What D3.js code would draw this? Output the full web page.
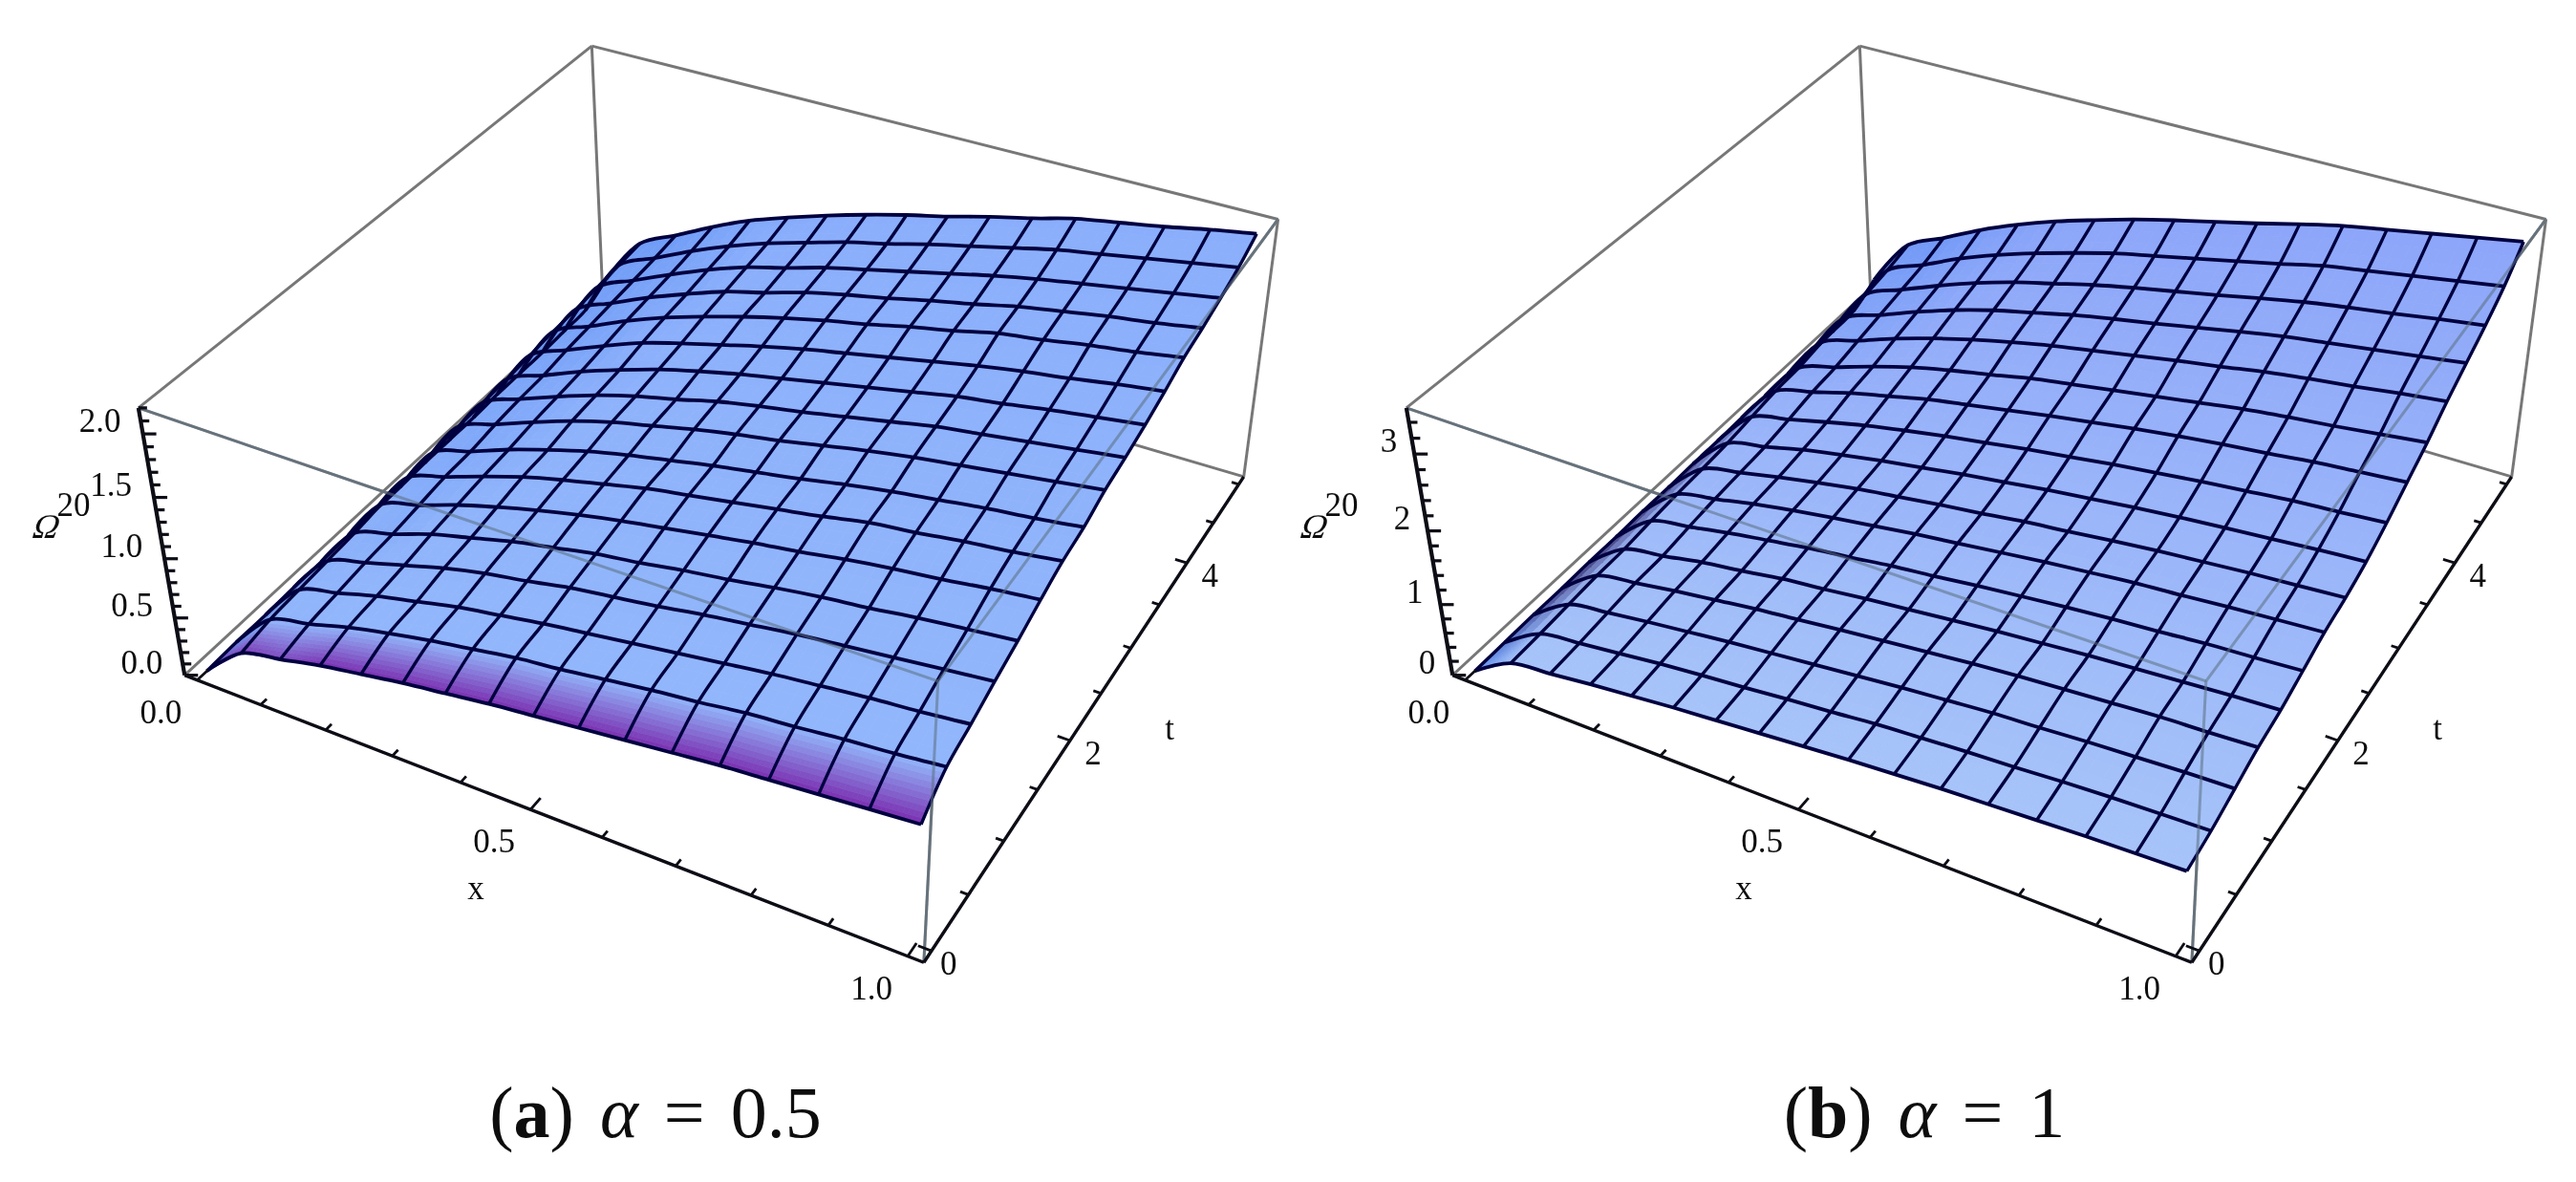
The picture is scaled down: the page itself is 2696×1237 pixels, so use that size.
<!DOCTYPE html>
<html>
<head>
<meta charset="utf-8">
<style>
body { margin: 0; background: #fff; }
text { font-family: "Liberation Serif", serif; fill: #111; }
</style>
<script src="https://cdn.jsdelivr.net/npm/d3@7"></script>
</head>
<body>
<div id="chart"></div>
<script>
// mesh positions
var xGrid = [0, 0.0625, 0.125, 0.1875, 0.25, 0.3125, 0.375, 0.4375, 0.5, 0.5625, 0.625, 0.6875, 0.75, 0.8125, 0.875, 0.9375, 1];
var tGrid = [0, 0.3125, 0.625, 0.9375, 1.25, 1.5625, 1.875, 2.1875, 2.5, 2.8125, 3.125, 3.4375, 3.75, 4.0625, 4.375, 4.6875, 5];

// surface heights, one row per t
var zA = [
	[0, .29, .37, .45, .51, .57, .62, .67, .71, .75, .79, .83, .87, .90, .93, .96, .99],
	[.01, .34, .43, .53, .61, .68, .74, .80, .84, .89, .94, .98, 1.03, 1.06, 1.10, 1.13, 1.17],
	[.01, .36, .46, .56, .64, .72, .78, .84, .89, .94, .99, 1.04, 1.09, 1.13, 1.17, 1.20, 1.24],
	[.02, .38, .49, .59, .69, .77, .83, .90, .95, 1.00, 1.06, 1.11, 1.16, 1.20, 1.24, 1.28, 1.32],
	[.02, .40, .51, .63, .72, .81, .88, .95, 1.00, 1.06, 1.11, 1.17, 1.22, 1.26, 1.31, 1.35, 1.39],
	[.03, .43, .54, .66, .76, .85, .93, 1.00, 1.06, 1.12, 1.18, 1.23, 1.29, 1.34, 1.38, 1.43, 1.47],
	[.03, .45, .57, .69, .80, .89, .97, 1.05, 1.11, 1.17, 1.23, 1.29, 1.36, 1.40, 1.45, 1.49, 1.54],
	[.03, .46, .58, .71, .82, .92, 1.00, 1.07, 1.14, 1.20, 1.26, 1.33, 1.39, 1.44, 1.49, 1.53, 1.58],
	[.04, .48, .61, .74, .86, .96, 1.04, 1.12, 1.19, 1.25, 1.32, 1.39, 1.45, 1.50, 1.55, 1.60, 1.65],
	[.04, .49, .63, .76, .88, .98, 1.06, 1.15, 1.22, 1.28, 1.35, 1.42, 1.49, 1.54, 1.59, 1.64, 1.69],
	[.04, .50, .64, .78, .90, 1.01, 1.10, 1.18, 1.25, 1.32, 1.39, 1.46, 1.53, 1.58, 1.64, 1.69, 1.74],
	[.05, .52, .67, .81, .94, 1.04, 1.13, 1.22, 1.30, 1.37, 1.44, 1.51, 1.58, 1.64, 1.69, 1.75, 1.80],
	[.05, .54, .69, .84, .97, 1.08, 1.18, 1.27, 1.35, 1.42, 1.50, 1.57, 1.65, 1.70, 1.76, 1.81, 1.87],
	[.05, .55, .71, .86, .99, 1.11, 1.20, 1.30, 1.38, 1.45, 1.53, 1.60, 1.68, 1.74, 1.80, 1.85, 1.91],
	[.06, .57, .73, .88, 1.02, 1.14, 1.23, 1.33, 1.41, 1.49, 1.57, 1.65, 1.72, 1.78, 1.84, 1.90, 1.96],
	[.07, .59, .75, .91, 1.05, 1.17, 1.27, 1.37, 1.45, 1.54, 1.62, 1.70, 1.78, 1.84, 1.90, 1.96, 2.02],
	[.18, .61, .78, .95, 1.10, 1.22, 1.33, 1.43, 1.52, 1.60, 1.69, 1.77, 1.86, 1.92, 1.98, 2.05, 2.11]
];
var zB = [
	[0, .33, .40, .47, .53, .59, .64, .69, .74, .79, .83, .87, .90, .93, .96, .98, 1.00],
	[.01, .35, .43, .50, .57, .63, .68, .74, .79, .85, .89, .93, .96, 1.00, 1.03, 1.05, 1.07],
	[.02, .38, .47, .55, .62, .69, .75, .81, .87, .93, .98, 1.03, 1.06, 1.10, 1.13, 1.16, 1.18],
	[.02, .41, .51, .60, .68, .76, .82, .89, .95, 1.01, 1.07, 1.12, 1.16, 1.20, 1.24, 1.26, 1.29],
	[.03, .42, .52, .63, .71, .80, .86, .93, .99, 1.05, 1.11, 1.16, 1.21, 1.25, 1.29, 1.33, 1.36],
	[.03, .46, .57, .68, .77, .86, .93, 1.01, 1.07, 1.14, 1.20, 1.26, 1.31, 1.35, 1.40, 1.43, 1.47],
	[.04, .49, .61, .73, .83, .92, 1.00, 1.08, 1.15, 1.22, 1.29, 1.35, 1.41, 1.45, 1.50, 1.54, 1.58],
	[.04, .51, .64, .76, .87, .97, 1.05, 1.13, 1.20, 1.28, 1.34, 1.41, 1.47, 1.52, 1.57, 1.61, 1.65],
	[.05, .54, .67, .81, .92, 1.02, 1.11, 1.20, 1.28, 1.36, 1.43, 1.50, 1.56, 1.61, 1.66, 1.71, 1.75],
	[.05, .59, .73, .87, 1.00, 1.11, 1.21, 1.30, 1.39, 1.47, 1.55, 1.62, 1.69, 1.75, 1.81, 1.85, 1.90],
	[.06, .64, .80, .96, 1.09, 1.22, 1.32, 1.42, 1.52, 1.61, 1.70, 1.78, 1.85, 1.91, 1.98, 2.03, 2.08],
	[.06, .66, .84, 1.02, 1.18, 1.31, 1.42, 1.54, 1.63, 1.72, 1.81, 1.90, 1.99, 2.06, 2.12, 2.19, 2.26],
	[.07, .72, .91, 1.11, 1.28, 1.43, 1.56, 1.68, 1.78, 1.88, 1.98, 2.07, 2.17, 2.25, 2.32, 2.40, 2.47],
	[.07, .77, .98, 1.19, 1.38, 1.54, 1.67, 1.80, 1.91, 2.01, 2.12, 2.23, 2.33, 2.41, 2.49, 2.57, 2.65],
	[.08, .82, 1.05, 1.27, 1.47, 1.64, 1.78, 1.92, 2.04, 2.15, 2.26, 2.38, 2.49, 2.58, 2.66, 2.75, 2.83],
	[.10, .88, 1.12, 1.37, 1.58, 1.76, 1.92, 2.07, 2.19, 2.31, 2.43, 2.55, 2.68, 2.77, 2.86, 2.95, 3.04],
	[.28, .97, 1.23, 1.50, 1.73, 1.93, 2.10, 2.26, 2.40, 2.53, 2.66, 2.80, 2.93, 3.03, 3.13, 3.23, 3.33]
];

// ticks
var xTicks = [0, 0.1, 0.2, 0.3, 0.4, 0.5, 0.6, 0.7, 0.8, 0.9, 1];
var xLabels = [[0, "0.0"], [0.5, "0.5"], [1, "1.0"]];
var tTicks = [0, 0.5, 1, 1.5, 2, 2.5, 3, 3.5, 4, 4.5, 5];
var tLabels = [[0, "0"], [2, "2"], [4, "4"]];
var zTicksA = [0, .1, .2, .3, .4, .5, .6, .7, .8, .9, 1, 1.1, 1.2, 1.3, 1.4, 1.5, 1.6, 1.7, 1.8, 1.9, 2, 2.1, 2.2];
var zLongA = [0, .5, 1, 1.5, 2];
var zLabelsA = ["0.0", "0.5", "1.0", "1.5", "2.0"];
var zTicksB = [0, .2, .4, .6, .8, 1, 1.2, 1.4, 1.6, 1.8, 2, 2.2, 2.4, 2.6, 2.8, 3, 3.2, 3.4];
var zLongB = [0, 1, 2, 3];
var zLabelsB = ["0", "1", "2", "3"];

var width = 2696, height = 1237;

// box corners on screen, [x, t, z] in the unit cube -> [u, v]
var corners = [
	[0, 0, 0, 192, 705],
	[1, 0, 0, 966, 1007],
	[0, 1, 0, 631, 305],
	[1, 1, 0, 1303, 497],
	[0, 0, 1, 146, 427],
	[1, 0, 1, 983, 715],
	[0, 1, 1, 619, 46],
	[1, 1, 1, 1336, 230]
];

// plain least squares for the camera matrix
function solveCamera(pts) {
	var rows = [];
	pts.forEach(function (c) {
		var X = c[0], Y = c[1], Z = c[2], u = c[3] / 1000, v = c[4] / 1000;
		rows.push([X, Y, Z, 1, 0, 0, 0, 0, -u * X, -u * Y, -u * Z, u]);
		rows.push([0, 0, 0, 0, X, Y, Z, 1, -v * X, -v * Y, -v * Z, v]);
	});
	var n = 11, m = [];
	for (var i = 0; i < n; i++) {
		m[i] = [];
		for (var j = 0; j <= n; j++) {
			var s = 0;
			rows.forEach(function (r) { s += r[i] * r[j]; });
			m[i][j] = s;
		}
	}
	for (var k = 0; k < n; k++) {
		var best = k;
		for (var a = k + 1; a < n; a++) if (Math.abs(m[a][k]) > Math.abs(m[best][k])) best = a;
		var tmp = m[k]; m[k] = m[best]; m[best] = tmp;
		for (var b = 0; b < n; b++) {
			if (b == k) continue;
			var f = m[b][k] / m[k][k];
			for (var q = k; q <= n; q++) m[b][q] -= f * m[k][q];
		}
	}
	var out = [];
	for (var w = 0; w < n; w++) out[w] = m[w][n] / m[w][w];
	return out;
}
var cam = solveCamera(corners);

function project(X, Y, Z) {
	var d = cam[8] * X + cam[9] * Y + cam[10] * Z + 1;
	return [
		1000 * (cam[0] * X + cam[1] * Y + cam[2] * Z + cam[3]) / d,
		1000 * (cam[4] * X + cam[5] * Y + cam[6] * Z + cam[7]) / d
	];
}

var xScale = d3.scaleLinear().domain([-0.02, 1.02]).range([0, 1]);
var tScale = d3.scaleLinear().domain([-0.1, 5.1]).range([0, 1]);

var svg = d3.select("#chart").append("svg")
	.attr("width", width)
	.attr("height", height)
	.style("display", "block");

// the source is a soft low resolution bitmap
var soft = svg.append("defs").append("filter").attr("id", "soft")
	.attr("x", 0).attr("y", 0).attr("width", 1).attr("height", 1)
	.attr("filterUnits", "objectBoundingBox");
soft.append("feGaussianBlur").attr("stdDeviation", 0.55);
var root = svg.append("g").attr("filter", "url(#soft)");
root.append("rect").attr("width", width).attr("height", height).attr("fill", "#fff");

var clamp = function (v) { return Math.max(0, Math.min(1, v)); };

function drawPanel(o) {
	var z = o.table;
	var zScale = d3.scaleLinear().domain([0, o.zTop]).range([0, 1]);
	var pt = function (x, t, h) { return project(xScale(x), tScale(t), zScale(h)); };
	var g = root.append("g").attr("transform", "translate(" + o.dx + ",0)");
	var line = d3.line();
	var meshLine = d3.line().curve(d3.curveCatmullRom.alpha(0.5));

	var edge = function (a, b, color, w, op) {
		g.append("path")
			.attr("d", line([project(a[0], a[1], a[2]), project(b[0], b[1], b[2])]))
			.attr("stroke", color)
			.attr("stroke-width", w)
			.attr("stroke-opacity", op || 1)
			.attr("fill", "none");
	};

	// back of the box
	var grey = "#777";
	var greyEdges = [
		[[0, 0, 1], [0, 1, 1]], [[0, 1, 1], [1, 1, 1]], [[0, 1, 1], [0, 1, 0]],
		[[0, 0, 0], [0, 1, 0]], [[0, 1, 0], [1, 1, 0]], [[1, 1, 1], [1, 1, 0]]
	];
	var frontEdges = [
		[[0, 0, 1], [1, 0, 1]], [[1, 0, 1], [1, 1, 1]], [[1, 0, 1], [1, 0, 0]]
	];
	greyEdges.concat(frontEdges).forEach(function (e) { edge(e[0], e[1], grey, 3); });

	// node colours come from the slopes of the table
	var last = xGrid.length - 1;
	var colorAt = function (i, j) {
		var c = d3.interpolateRgb(o.frontTint, o.backTint)(i / last);
		var jj = Math.min(j, last - 1), ii = Math.min(i, last - 1);
		var dzx = (z[i][jj + 1] - z[i][jj]) / o.zTop * last;
		c = d3.interpolateRgb(c, "#5E90F4")(0.9 * clamp((dzx - 0.7) / 0.8));
		var col = Math.max(j, 1);
		var rel = (z[ii + 1][col] - z[ii][col]) / z[ii + 1][col];
		c = d3.interpolateRgb(c, "#7A2FB0")(clamp((rel - 0.1) / 0.05));
		if (j == 0) c = d3.interpolateRgb(c, "#3A3478")(o.edgeDark * clamp(i / 3) * clamp((14 - i) / 6));
		return d3.rgb(c);
	};

	// surface, each mesh cell split into small quads so the shading is smooth
	var surface = g.append("g");
	for (var i = 0; i < last; i++) {
		var sub = i == 0 ? 10 : 3;
		for (var j = 0; j < last; j++) {
			var c00 = colorAt(i, j), c01 = colorAt(i, j + 1), c10 = colorAt(i + 1, j), c11 = colorAt(i + 1, j + 1);
			var at = function (a, b) {
				var h = (1 - a) * ((1 - b) * z[i][j] + b * z[i][j + 1]) + a * ((1 - b) * z[i + 1][j] + b * z[i + 1][j + 1]);
				return pt(xGrid[j] + b * (xGrid[j + 1] - xGrid[j]), tGrid[i] + a * (tGrid[i + 1] - tGrid[i]), h);
			};
			for (var a = 0; a < sub; a++) {
				for (var b = 0; b < sub; b++) {
					var ma = (a + 0.5) / sub, mb = (b + 0.5) / sub;
					var col = d3.rgb(
						(1 - ma) * ((1 - mb) * c00.r + mb * c01.r) + ma * ((1 - mb) * c10.r + mb * c11.r),
						(1 - ma) * ((1 - mb) * c00.g + mb * c01.g) + ma * ((1 - mb) * c10.g + mb * c11.g),
						(1 - ma) * ((1 - mb) * c00.b + mb * c01.b) + ma * ((1 - mb) * c10.b + mb * c11.b)
					).formatHex();
					surface.append("path")
						.attr("d", line([at(a / sub, b / sub), at(a / sub, (b + 1) / sub), at((a + 1) / sub, (b + 1) / sub), at((a + 1) / sub, b / sub)]) + "Z")
						.attr("fill", col)
						.attr("stroke", col)
						.attr("stroke-width", 0.8);
				}
			}
		}
	}

	// mesh
	var navy = "#03033f";
	z.forEach(function (row, i) {
		g.append("path")
			.attr("d", meshLine(row.map(function (h, j) { return pt(xGrid[j], tGrid[i], h); })))
			.attr("fill", "none").attr("stroke", navy).attr("stroke-width", 3.8);
	});
	xGrid.forEach(function (x, j) {
		g.append("path")
			.attr("d", meshLine(tGrid.map(function (t, i) { return pt(x, t, z[i][j]); })))
			.attr("fill", "none").attr("stroke", navy).attr("stroke-width", 3.4);
	});

	// front box edges show faintly through the surface
	frontEdges.forEach(function (e) { edge(e[0], e[1], "#5a7080", 3, 0.55); });

	// axes
	var black = "#0a0a14";
	edge([0, 0, 0], [1, 0, 0], black, 3.4);
	edge([1, 0, 0], [1, 1, 0], black, 3.4);
	edge([0, 0, 0], [0, 0, 1], black, 4.2);

	xTicks.forEach(function (x) {
		var long = x == 0.5 || x == 0 || x == 1;
		g.append("path")
			.attr("d", line([project(xScale(x), 0, 0), project(xScale(x), long ? 0.022 : 0.012, 0)]))
			.attr("stroke", black).attr("stroke-width", 2.8);
	});
	tTicks.forEach(function (t) {
		var long = t == 0 || t == 2 || t == 4;
		g.append("path")
			.attr("d", line([project(1, tScale(t), 0), project(long ? 0.984 : 0.99, tScale(t), 0)]))
			.attr("stroke", black).attr("stroke-width", 2.8);
	});
	o.zTicks.forEach(function (h) {
		var p = project(0, 0, zScale(h));
		var long = o.zLong.indexOf(h) >= 0;
		g.append("path")
			.attr("d", line([p, [p[0] + (long ? 14 : 9), p[1]]]))
			.attr("stroke", black).attr("stroke-width", 3.2);
	});

	// labels
	o.zLong.forEach(function (h, i) {
		var p = project(0, 0, zScale(h));
		g.append("text").text(o.zLabels[i])
			.attr("x", p[0] - o.zGap).attr("y", p[1] - 2)
			.attr("text-anchor", "end").style("font-size", "35px");
	});
	xLabels.forEach(function (d) {
		var p = project(xScale(d[0]), 0, 0);
		g.append("text").text(d[1])
			.attr("x", p[0] - 38).attr("y", p[1] + 45)
			.attr("text-anchor", "middle").style("font-size", "35px");
	});
	tLabels.forEach(function (d) {
		var p = project(1, tScale(d[0]), 0);
		g.append("text").text(d[1])
			.attr("x", p[0] + (d[0] == 0 ? 18 : 24)).attr("y", p[1] + 25)
			.attr("text-anchor", "middle").style("font-size", "35px");
	});
	g.append("text").text("x").attr("x", 498).attr("y", 941).attr("text-anchor", "middle").style("font-size", "35px");
	g.append("text").text("t").attr("x", 1224).attr("y", 774).attr("text-anchor", "middle").style("font-size", "35px");
	g.append("text").text("Ω")
		.attr("transform", "translate(" + o.qx + ",563) skewX(-18)")
		.attr("text-anchor", "middle").style("font-size", "36px");
	g.append("text").text("20").attr("x", o.qx + 32).attr("y", 540).attr("text-anchor", "middle").style("font-size", "35px");

	// caption
	var cap = root.append("text")
		.attr("x", o.capX).attr("y", 1190)
		.attr("text-anchor", "middle")
		.style("font-size", "76px")
		.style("word-spacing", "8px");
	cap.append("tspan").text("(");
	cap.append("tspan").text(o.letter).style("font-weight", "bold");
	cap.append("tspan").text(") ");
	cap.append("tspan").text("α").style("font-style", "italic");
	cap.append("tspan").text(" = " + o.value);
}

drawPanel({
	dx: 0, table: zA, zTop: 2.2, zTicks: zTicksA, zLong: zLongA, zLabels: zLabelsA, zGap: 23,
	frontTint: "#93B7FB", backTint: "#8AAEFB", edgeDark: 0.45, qx: 45,
	letter: "a", value: "0.5", capX: 686
});
drawPanel({
	dx: 1327, table: zB, zTop: 3.58, zTicks: zTicksB, zLong: zLongB, zLabels: zLabelsB, zGap: 18,
	frontTint: "#A6C3F9", backTint: "#8DA6F9", edgeDark: 0.95, qx: 45,
	letter: "b", value: "1", capX: 2014
});
</script>
</body>
</html>
